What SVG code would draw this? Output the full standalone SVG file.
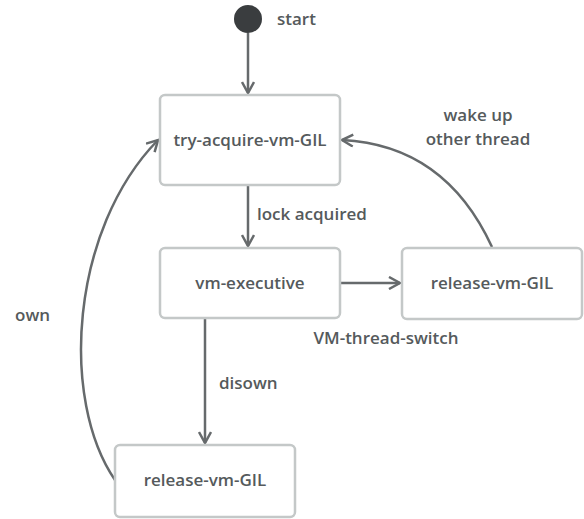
<svg xmlns="http://www.w3.org/2000/svg" width="584" height="519" viewBox="0 0 584 519">
<defs>
<style>
.node rect{fill:#fff;stroke:#c4c8c8;stroke-width:2.5}
text{font-family:"Open Sans","Liberation Sans",sans-serif;font-weight:600;font-size:17px;fill:#555a5c}
.lbl{text-anchor:middle}
.edge{fill:none;stroke:#666a6c;stroke-width:2.5}
</style>
<marker id="arr" viewBox="0 0 14 14" refX="12" refY="7" markerWidth="14" markerHeight="14" markerUnits="userSpaceOnUse" orient="auto">
<path d="M1,1 L12,7 L1,13" fill="none" stroke="#666a6c" stroke-width="2.5"/>
</marker>
</defs>
<rect width="584" height="519" fill="#fff"/>
<g id="connectors">
<path class="edge" d="M248,33 L248,93" marker-end="url(#arr)"/>
<path class="edge" d="M248,186 L248,246" marker-end="url(#arr)"/>
<path class="edge" d="M341,283 L400,283" marker-end="url(#arr)"/>
<path class="edge" d="M205,319 L205,443" marker-end="url(#arr)"/>
<path class="edge" d="M492,247 Q445,145 342,140" marker-end="url(#arr)"/>
<path class="edge" d="M115,480 C60,400 70,230 158,140" marker-end="url(#arr)"/>
<text x="257" y="220">lock acquired</text>
<text class="lbl" x="386" y="344">VM-thread-switch</text>
<text x="219" y="389">disown</text>
<text x="15" y="321">own</text>
<text class="lbl" x="478" y="121">wake up</text>
<text class="lbl" x="478" y="145">other thread</text>
</g>
<g id="start">
<circle cx="248" cy="19" r="14" fill="#3a3d3f"/>
<text x="277" y="25">start</text>
</g>
<g id="try-acquire" class="node">
<rect x="160" y="95" width="180" height="90" rx="5"/>
<text class="lbl" x="250" y="146">try-acquire-vm-GIL</text>
</g>
<g id="vm-executive" class="node">
<rect x="160" y="248" width="180" height="70" rx="5"/>
<text class="lbl" x="250" y="289">vm-executive</text>
</g>
<g id="release-right" class="node">
<rect x="402" y="248" width="180" height="71" rx="5"/>
<text class="lbl" x="492" y="289">release-vm-GIL</text>
</g>
<g id="release-bottom" class="node">
<rect x="115" y="445" width="180" height="72" rx="5"/>
<text class="lbl" x="205" y="486">release-vm-GIL</text>
</g>
</svg>
